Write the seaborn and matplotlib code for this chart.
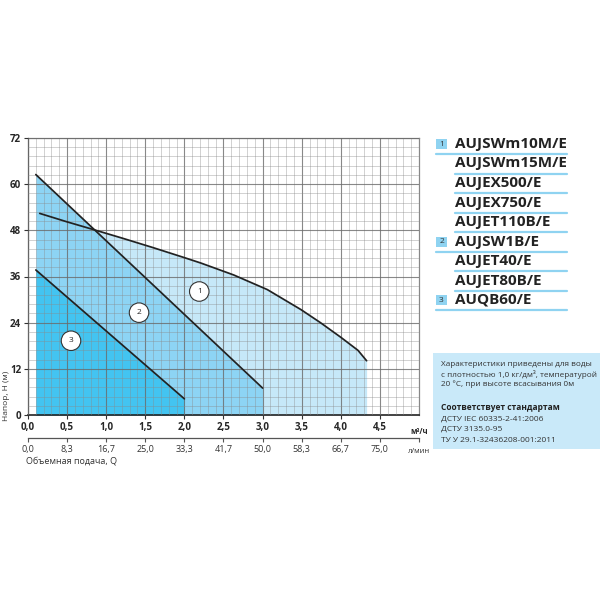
import numpy as np
import pandas as pd
import seaborn as sns
import matplotlib
matplotlib.use("Agg")
import matplotlib.pyplot as plt
from matplotlib.patches import Rectangle
from matplotlib.lines import Line2D
from matplotlib.ticker import MultipleLocator

# ---- data ----
q1 = [0.15, 0.5, 0.82, 1.2, 1.6, 2.0, 2.21, 2.63, 3.06, 3.49, 3.74, 4.0, 4.22, 4.33]
h1 = [52.4, 50.2, 48.3, 46.0, 43.5, 40.9, 39.5, 36.4, 32.6, 27.4, 24.0, 20.2, 16.8, 14.1]
q2 = [0.1, 3.0]
h2 = [62.5, 7.0]
q3 = [0.1, 2.0]
h3 = [37.7, 4.2]

x_ticks = [0.0, 0.5, 1.0, 1.5, 2.0, 2.5, 3.0, 3.5, 4.0, 4.5]
x_tick_labels = ["0,0", "0,5", "1,0", "1,5", "2,0", "2,5", "3,0", "3,5", "4,0", "4,5"]
lmin_labels = ["0,0", "8,3", "16,7", "25,0", "33,3", "41,7", "50,0", "58,3", "66,7", "75,0"]
y_ticks = [0, 12, 24, 36, 48, 60, 72]

models = ["AUJSWm10M/E", "AUJSWm15M/E", "AUJEX500/E", "AUJEX750/E", "AUJET110B/E",
          "AUJSW1B/E", "AUJET40/E", "AUJET80B/E", "AUQB60/E"]
model_group = ["1", "", "", "", "", "2", "", "", "3"]

note_lines = ["Характеристики приведены для воды",
              "с плотностью 1,0 кг/дм³, температурой",
              "20 °C, при высоте всасывания 0м"]
std_title = "Соответствует стандартам"
std_lines = ["ДСТУ IEC 60335-2-41:2006", "ДСТУ 3135.0-95", "ТУ У 29.1-32436208-001:2011"]

sns.set_theme(style="white")
plt.rcParams['font.family'] = ['Open Sans', 'DejaVu Sans']

c1 = "#c6e8f8"
c2 = "#8dd4f4"
c3 = "#43c4f1"
ul = "#8fd3f1"

fig = plt.figure(figsize=(6, 6), dpi=100)
W, H = 600.0, 600.0
ax = fig.add_axes([28 / W, 1 - 415 / H, (419 - 28) / W, (415 - 138) / H])

# fills
ax.fill_between(q1, h1, 0, color=c1, lw=0, zorder=1)
ax.fill_between(q2, h2, 0, color=c2, lw=0, zorder=1.1)
ax.fill_between(q3, h3, 0, color=c3, lw=0, zorder=1.2)

# curves
df1 = pd.DataFrame({"q": q1, "h": h1})
df2 = pd.DataFrame({"q": q2, "h": h2})
df3 = pd.DataFrame({"q": q3, "h": h3})
for d in (df1, df2, df3):
    sns.lineplot(data=d, x="q", y="h", ax=ax, color="#222222", lw=1.25,
                 sort=False, estimator=None, zorder=4)

# grid
ax.set_xlim(0, 5.0)
ax.set_ylim(0, 72)
ax.xaxis.set_major_locator(MultipleLocator(0.5))
ax.xaxis.set_minor_locator(MultipleLocator(0.1))
ax.yaxis.set_major_locator(MultipleLocator(12))
ax.yaxis.set_minor_locator(MultipleLocator(2.4))
ax.set_axisbelow(False)
ax.grid(which="major", color="#6a6a6a", lw=0.8, alpha=0.8, zorder=2)
ax.grid(which="minor", color="#8a8a8a", lw=0.6, alpha=0.45, zorder=2)
ax.tick_params(which="minor", length=0)

ax.set_xticks(x_ticks)
ax.set_xticklabels(x_tick_labels, fontsize=7, fontweight="bold")
ax.set_yticks(y_ticks)
ax.set_yticklabels([str(v) for v in y_ticks], fontsize=7, fontweight="bold")
ax.tick_params(axis="both", which="major", length=3, width=0.8, color="#333333",
               pad=2, direction="out", bottom=True, left=True)
ax.set_xlabel("")
ax.set_ylabel("")

for s in ("top", "right"):
    ax.spines[s].set_color("#888888")
    ax.spines[s].set_linewidth(0.9)
ax.spines["left"].set_color("#555555")
ax.spines["left"].set_linewidth(0.9)
ax.spines["bottom"].set_color("#222222")
ax.spines["bottom"].set_linewidth(1.2)

# unit label for main x axis
ax.text(5.0, -3.0, "м³/ч", fontsize=5.5, fontweight="bold", ha="center", va="top",
        transform=ax.transData, clip_on=False)

# secondary axis (l/min)
sec = ax.secondary_xaxis(-0.083)
sec.set_xticks(x_ticks + [5.0])
sec.set_xticklabels(lmin_labels + [""], fontsize=6.5, color="#333333")
sec.tick_params(length=3, width=0.8, color="#555555", pad=2, direction="out")
sec.spines["bottom"].set_color("#555555")
sec.spines["bottom"].set_linewidth(0.9)
ax.text(5.0, -0.118, "л/мин", fontsize=5.5, ha="center", va="top",
        transform=ax.get_xaxis_transform(), clip_on=False, color="#333333")

# axis titles
fig.text(26 / W, 1 - 461 / H, "Объемная подача, Q", fontsize=6.5, ha="left",
         va="center", color="#333333")
fig.text(7 / W, 1 - 396 / H, "Напор, Н (м)", fontsize=6, ha="center",
         va="center", rotation=90, color="#333333")

# circle labels
for lab, (qx, hy) in zip(["1", "2", "3"], [(2.19, 32.1), (1.42, 26.6), (0.55, 19.3)]):
    ax.text(qx, hy, lab, fontsize=6, ha="center", va="center", zorder=6,
            bbox=dict(boxstyle="circle,pad=0.75", fc="white", ec="#333333", lw=0.8))

# legend list
row_y = [144, 163.5, 183, 202.5, 222, 241.5, 261, 280.5, 300]
for name, grp, yy in zip(models, model_group, row_y):
    fig.text(455 / W, 1 - yy / H, name, fontsize=11, fontweight="bold",
             ha="left", va="center", color="#222222")
    x0 = 436 if grp else 455
    fig.add_artist(Line2D([x0 / W, 567 / W], [1 - (yy + 10) / H] * 2,
                          color=ul, lw=1.6))
    if grp:
        fig.add_artist(Rectangle((436 / W, 1 - (yy + 5) / H), 11 / W, 10 / H,
                                 facecolor=ul, edgecolor="none"))
        fig.text(441.5 / W, 1 - yy / H, grp, fontsize=6, ha="center", va="center",
                 color="#333333")

# note box
fig.add_artist(Rectangle((433 / W, 1 - 449 / H), 167 / W, 96 / H,
                         facecolor="#c9e9f9", edgecolor="none"))
for t, yy in zip(note_lines, [365, 374.5, 384]):
    fig.text(441 / W, 1 - yy / H, t, fontsize=5.9, ha="left", va="center", color="#333333")
fig.text(441 / W, 1 - 408 / H, std_title, fontsize=6, fontweight="bold",
         ha="left", va="center", color="#222222")
for t, yy in zip(std_lines, [419, 429.5, 440]):
    fig.text(441 / W, 1 - yy / H, t, fontsize=6, ha="left", va="center", color="#333333")

fig.savefig("out.png", dpi=100, facecolor="white")
